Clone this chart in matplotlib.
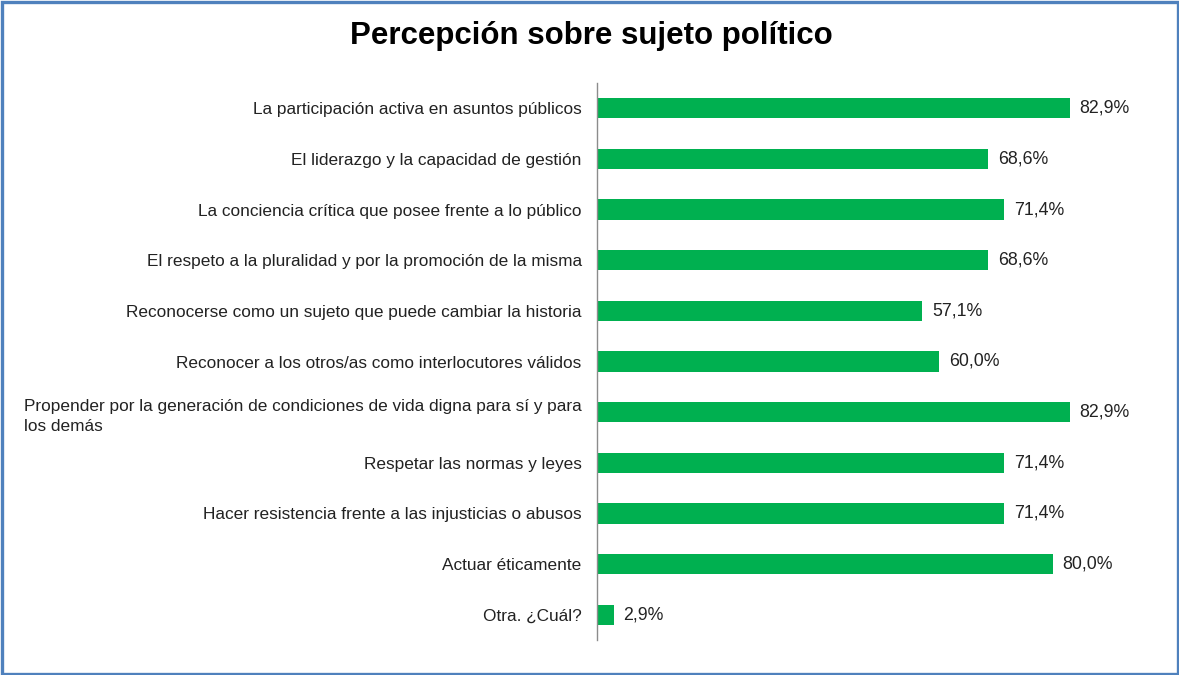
import matplotlib

matplotlib.use("Agg")
import matplotlib.pyplot as plt
from matplotlib.patches import Rectangle

plt.rcParams["font.family"] = ["Liberation Sans", "DejaVu Sans"]

categories = [
    "La participación activa en asuntos públicos",
    "El liderazgo y la capacidad de gestión",
    "La conciencia crítica que posee frente a lo público",
    "El respeto a la pluralidad y por la promoción de la misma",
    "Reconocerse como un sujeto que puede cambiar la historia",
    "Reconocer a los otros/as como interlocutores válidos",
    "Propender por la generación de condiciones de vida digna para sí y para\nlos demás",
    "Respetar las normas y leyes",
    "Hacer resistencia frente a las injusticias o abusos",
    "Actuar éticamente",
    "Otra. ¿Cuál?",
]
values = [82.9, 68.6, 71.4, 68.6, 57.1, 60.0, 82.9, 71.4, 71.4, 80.0, 2.9]

W, H = 1179, 675
fig = plt.figure(figsize=(W / 100, H / 100), dpi=100)

# blue frame around the chart area
fig.patches.append(Rectangle((1.5 / W, 1.5 / H), 1 - 3 / W, 1 - 3 / H,
                             transform=fig.transFigure, fill=False,
                             edgecolor="#4F81BD", linewidth=2.4))

ax = fig.add_axes([597 / W, (H - 640) / H, 570 / W, 557 / H])
pos = list(range(len(categories)))
ax.barh(pos, values, height=0.4, color="#00B050")
ax.set_ylim(len(categories) - 0.5, -0.5)
ax.set_xlim(0, 100)
ax.set_yticks(pos)
ax.set_yticklabels(categories, fontsize=12.4, color="#222222")
for lab in ax.get_yticklabels():
    lab.set_multialignment("left")
    lab.set_linespacing(1.45)
ax.tick_params(axis="y", length=0, pad=11)
ax.set_xticks([])
for s in ["top", "right", "bottom"]:
    ax.spines[s].set_visible(False)
ax.spines["left"].set_color("#8c8c8c")
ax.spines["left"].set_linewidth(1.0)

for y, v in zip(pos, values):
    ax.text(v + 1.7, y, f"{v:.1f}%".replace(".", ","), va="center", ha="left",
            fontsize=12.8, color="#222222")

fig.text(591 / W, 1 - 36 / H, "Percepción sobre sujeto político", ha="center",
         va="center", fontsize=22.5, fontweight="bold", color="#000000")

fig.savefig("out.png", dpi=100)
